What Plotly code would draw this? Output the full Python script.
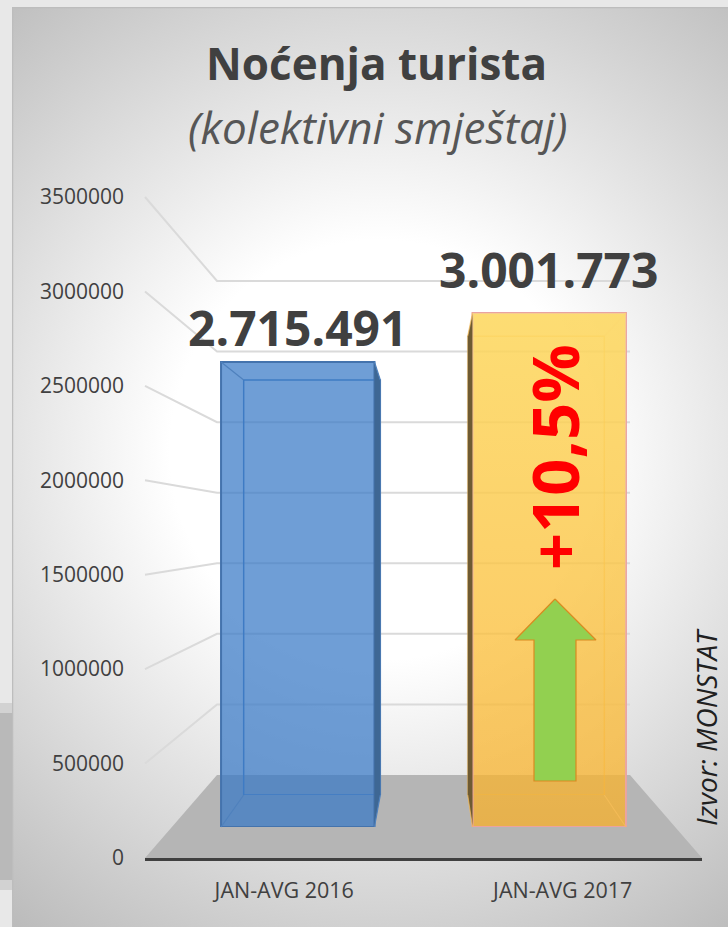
import plotly.graph_objects as go

CATEGORIES = ["JAN-AVG 2016", "JAN-AVG 2017"]
VALUES = [2715491, 3001773]
TICK_VALUES = [0, 500000, 1000000, 1500000, 2000000, 2500000, 3000000, 3500000]
AXIS_MAX = 3500000
TITLE = "Noćenja turista"
SUBTITLE = "(kolektivni smještaj)"
GROWTH = "+10,5%"
SOURCE = "Izvor: MONSTAT"

W, H = 728, 927
FONT = "Open Sans"
TXT = "#404040"

# perspective planes (pixels)
AX_L, AX_R, AX_Y0, AX_K = 145, 702, 858, 661 / 3500000
WALL_L, WALL_R, WALL_Y0, WALL_K = 217, 630, 775, 494 / 3500000
FR_L, FR_R, FR_Y0, FR_K = 172, 675, 827, 465 / 2715491
BK_L, BK_R, BK_Y0, BK_K = 200, 648, 795, 415 / 2715491
GAP = 0.39
TOP = 60

def py(p):
    return 1 - p / H

def edges(i, left, right):
    step = (right - left) / 2
    c = left + step * (i + .5)
    half = step * (1 - GAP) / 2
    return c - half, c + half

fig = go.Figure()

PX = dict(xaxis="x", yaxis="y", showlegend=False, hoverinfo="skip")
PX5 = dict(xaxis="x5", yaxis="y5", showlegend=False, hoverinfo="skip")

# background gradient (big polygon clipped to the panel)
fig.add_trace(go.Scatter(x=[-320, 1080, 1080, -320, -320], y=[-250, -250, 1150, 1150, -250],
                         mode="none", fill="toself",
                         fillgradient=dict(type="radial",
                                           colorscale=[[0, "#ffffff"], [.3, "#ffffff"], [1, "#aaaaaa"]]),
                         **PX))
# panel border
fig.add_trace(go.Scatter(x=[12.5, 12.5, 728], y=[927, 7.5, 7.5], mode="lines",
                         line=dict(color="#bdbdbd", width=1.5), **PX))
# floor
fig.add_trace(go.Scatter(x=[AX_L, AX_R, WALL_R, WALL_L, AX_L], y=[AX_Y0, AX_Y0, WALL_Y0, WALL_Y0, AX_Y0],
                         mode="lines", line=dict(width=0), fill="toself", fillcolor="#b5b5b5", **PX))
# grid
for v in TICK_VALUES[1:]:
    fig.add_trace(go.Scatter(x=[AX_L, WALL_L, WALL_R],
                             y=[AX_Y0 - v * AX_K, WALL_Y0 - v * WALL_K, WALL_Y0 - v * WALL_K],
                             mode="lines", line=dict(color="#dadada", width=2), **PX))

# axis subplot (ticks, labels, baseline)
fig.add_trace(go.Scatter(x=CATEGORIES, y=[0, 0], mode="lines", line=dict(width=0),
                         xaxis="x2", yaxis="y2", showlegend=False, hoverinfo="skip"))

# back plane outlines
fig.add_trace(go.Bar(x=CATEGORIES, y=VALUES, xaxis="x3", yaxis="y3", showlegend=False,
                     marker=dict(color="rgba(0,0,0,0)",
                                 line=dict(color=["#4f81bd", "rgba(248,190,90,0.55)"], width=1.5))))
# front plane
fig.add_trace(go.Bar(x=CATEGORIES, y=VALUES, xaxis="x4", yaxis="y4", showlegend=False,
                     marker=dict(color=["rgba(55,120,198,0.72)", "rgba(249,175,38,0.73)"],
                                 line=dict(color=["#4473ad", "#eaa3a0"], width=2))))

# 3D details derived from the values
SIDE = ["#3e6794", "#6e5a32"]
for i, v in enumerate(VALUES):
    fl, fr = edges(i, FR_L, FR_R)
    bl, br = edges(i, BK_L, BK_R)
    ft, bt = FR_Y0 - v * FR_K, BK_Y0 - v * BK_K
    # side face
    if i == 0:
        sx = [fr, br, br, fr, fr]
    else:
        sx = [fl, bl, bl, fl, fl]
    fig.add_trace(go.Scatter(x=sx, y=[ft, bt, BK_Y0, FR_Y0, ft], mode="lines", line=dict(width=0),
                             fill="toself", fillcolor=SIDE[i], **PX5))
    col = "#4f81bd" if i == 0 else "rgba(248,190,90,0.7)"
    for ax, ay, bx, by in [(fl, ft, bl, bt), (fr, ft, br, bt), (fl, FR_Y0, bl, BK_Y0), (fr, FR_Y0, br, BK_Y0)]:
        fig.add_trace(go.Scatter(x=[ax, bx], y=[ay, by], mode="lines",
                                 line=dict(color=col, width=1.2), **PX5))
    if i == 1:
        # lighter top on the yellow column
        fig.add_trace(go.Scatter(x=[fl, fr, fr, fl, fl], y=[ft, ft, FR_Y0, FR_Y0, ft], mode="none",
                                 fill="toself",
                                 fillgradient=dict(type="vertical",
                                                   colorscale=[[0, "rgba(255,240,130,0)"],
                                                               [1, "rgba(255,240,130,0.55)"]]),
                                 **PX5))

# arrow
fig.add_trace(go.Scatter(x=[555, 596, 576, 576, 534, 534, 515, 555], y=[599, 640, 640, 781, 781, 640, 640, 599],
                         mode="lines", line=dict(color="#d98a20", width=1.2),
                         fill="toself", fillcolor="#92d050", **PX5))

def px_axis(**kw):
    return dict(visible=False, fixedrange=True, **kw)

yd = dict(
    xaxis=px_axis(domain=[12 / W, 1], range=[12, W]),
    yaxis=px_axis(domain=[0, py(7)], range=[H, 7]),
    xaxis5=px_axis(domain=[0, 1], range=[0, W], anchor="y5"),
    yaxis5=px_axis(domain=[0, 1], range=[H, 0], anchor="x5"),
    xaxis2=dict(domain=[AX_L / W, AX_R / W], anchor="y2", type="category", range=[-.5, 1.5],
                categoryorder="array", categoryarray=CATEGORIES,
                showgrid=False, zeroline=False, showline=True, linecolor="#404040", linewidth=3,
                tickfont=dict(family=FONT, size=21.5, color=TXT), ticks="", ticklabelstandoff=11),
    yaxis2=dict(domain=[py(AX_Y0), py(AX_Y0 - AXIS_MAX * AX_K)], range=[0, AXIS_MAX], anchor="x2",
                tickmode="array", tickvals=TICK_VALUES, ticktext=[str(v) for v in TICK_VALUES],
                showgrid=False, zeroline=False, showline=False, ticks="", ticklabelstandoff=20,
                tickfont=dict(family=FONT, size=21, color=TXT)),
    xaxis3=dict(domain=[BK_L / W, BK_R / W], anchor="y3", visible=False, type="category",
                categoryorder="array", categoryarray=CATEGORIES),
    yaxis3=dict(domain=[py(BK_Y0), py(TOP)], range=[0, (BK_Y0 - TOP) / BK_K], anchor="x3", visible=False),
    xaxis4=dict(domain=[FR_L / W, FR_R / W], anchor="y4", visible=False, type="category",
                categoryorder="array", categoryarray=CATEGORIES),
    yaxis4=dict(domain=[py(FR_Y0), py(TOP)], range=[0, (FR_Y0 - TOP) / FR_K], anchor="x4", visible=False),
)

def note(text, x, y, size, color=TXT, bold=False, italic=False, angle=0):
    s = f"<b>{text}</b>" if bold else text
    s = f"<i>{s}</i>" if italic else s
    return dict(text=s, x=x / W, y=py(y), xref="paper", yref="paper", xanchor="center", yanchor="middle",
                showarrow=False, textangle=angle, font=dict(family=FONT, size=size, color=color))

fmt = lambda v: f"{v:,}".replace(",", ".")
annotations = [
    note(TITLE, 376, 63, 44, bold=True),
    note(SUBTITLE, 377, 127, 44, color="#565656", italic=True),
    note(fmt(VALUES[0]), 298, 328, 48, bold=True),
    note(fmt(VALUES[1]), 549, 269, 48, bold=True),
    note(GROWTH, 554, 457, 65, color="#ff0000", bold=True, angle=-90),
    note(SOURCE, 706, 727, 28, color="#202020", italic=True, angle=-90),
]

def strip(y0, y1, color):
    return dict(type="rect", xref="paper", yref="paper", x0=0, x1=12 / W, y0=py(y1), y1=py(y0),
                fillcolor=color, line=dict(width=0), layer="below")

shapes = [strip(703, 713, "#d2d2d2"), strip(713, 880, "#b9b9b9"), strip(880, 890, "#d2d2d2")]

fig.update_layout(width=W, height=H, margin=dict(l=0, r=0, t=0, b=0, pad=0, autoexpand=False), autosize=False,
                  paper_bgcolor="#e8e8e8", plot_bgcolor="rgba(0,0,0,0)", showlegend=False,
                  bargap=GAP, barmode="overlay", annotations=annotations, shapes=shapes, **yd)

fig.write_html("out.html", config=dict(displayModeBar=False),
               post_script="document.body.style.margin='0';document.documentElement.style.overflow='hidden';")
